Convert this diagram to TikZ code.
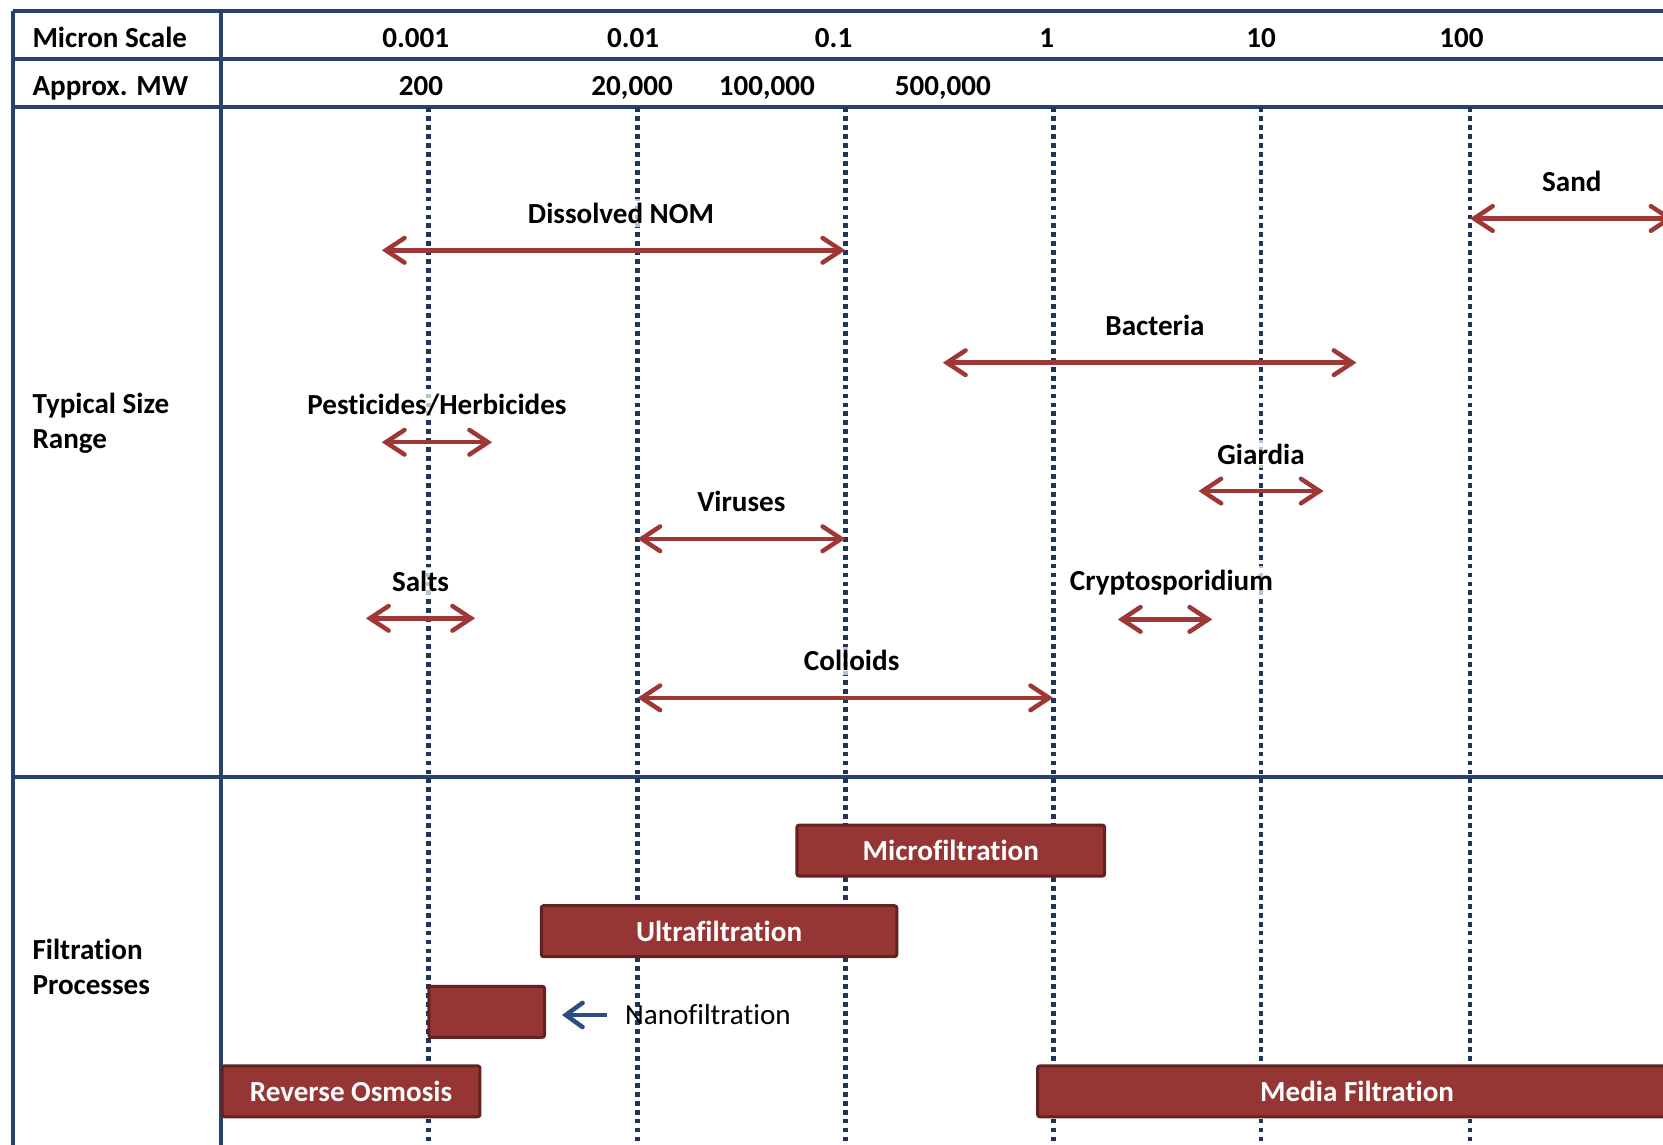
\documentclass[tikz,border=0pt]{standalone}
\usepackage{fontspec}
\setmainfont{Carlito}[Ligatures=NoCommon]
\usetikzlibrary{arrows.meta}
\definecolor{framenavy}{RGB}{40,66,108}
\definecolor{dotnavy}{RGB}{30,52,88}
\definecolor{rangered}{RGB}{158,56,54}
\definecolor{barred}{RGB}{150,54,52}
\definecolor{bardark}{RGB}{98,34,33}
\definecolor{nanoblue}{RGB}{42,78,128}

\begin{document}
\begin{tikzpicture}[x=0.01cm, y=-0.01cm,
  every node/.style={font=\fontsize{7.8}{9.4}\selectfont\bfseries},
  grid/.style={framenavy, line width=1.1pt},
  scaleline/.style={dotnavy, line width=1.3pt, dash pattern=on 1.3pt off 1.1pt},
  sizerange/.style={rangered, line width=1.2pt,
    {Straight Barb[length=5pt,width=6.6pt,line cap=round]}-{Straight Barb[length=5pt,width=6.6pt,line cap=round]}},
  rangelbl/.style={fill=white, fill opacity=0.7, text opacity=1, inner sep=1pt},
  hdr/.style={text height=1.6ex, text depth=0.45ex},
  process/.style={draw=bardark, fill=barred, line width=0.8pt, rounded corners=0.6pt,
    text=white, minimum height=0.48cm, anchor=west, inner sep=0pt},
  rowlbl/.style={anchor=west, align=left, inner sep=0pt}]

\useasboundingbox (0,0) rectangle (1568,1079);
\clip (0,0) rectangle (1568,1079);
\fill[white] (0,0) rectangle (1568,1079);

\foreach \yy in {10,56,101,733}
  \draw[grid] (12,\yy) -- (1600,\yy);
\foreach \xx in {12,208}
  \draw[grid] (\xx,10) -- (\xx,1100);
\foreach \xx in {404,601,797,993,1189,1386}
  \draw[scaleline] (\xx,101) -- (\xx,1100);

\node[rowlbl, hdr] (micron) at (30,35) {Micron Scale};
\node[rowlbl, hdr] (mw) at (30,80) {Approx. MW};
\node[rowlbl] (sizes) at (30,399) {Typical Size\\Range};
\node[rowlbl] (procs) at (30,912) {Filtration\\Processes};

\foreach \xx/\val/\nm in {392/0.001/mA, 597/0.01/mB, 786/0.1/mC, 987/1/mD, 1189/10/mE, 1378/100/mF}
  \node[hdr] (\nm) at (\xx,35) {\val};
\node[hdr] (wA) at (397,80) {200};
\node[hdr] (wB) at (596,80) {20,000};
\node[hdr] (wC) at (723,80) {100,000};
\node[hdr] (wD) at (889,80) {500,000};

\begin{scope}
  \foreach \xa/\xb/\yy/\dx/\nm/\txt in {360/797/236/7/nom/Dissolved NOM, 1386/1578/206/0/sand/Sand,
      889/1279/342/5/bact/Bacteria, 360/464/417/0/pest/{Pesticides/Herbicides},
      1130/1248/463/0/giar/Giardia, 601/797/508/0/vir/Viruses, 345/448/583/0/salt/Salts,
      1054/1143/584/6/crypto/Cryptosporidium, 601/993/658/6/coll/Colloids}
  {
    \draw[sizerange] (\xa,\yy) -- (\xb,\yy);
    \node[rangelbl] (\nm) at ({(\xa+\xb)/2+\dx},{\yy-35}) {\txt};
  }
\end{scope}

\begin{scope}
  \node[process, minimum width=2.9cm] (mf) at (750,802) {Microfiltration};
  \node[process, minimum width=3.35cm] (uf) at (509,878) {Ultrafiltration};
  \node[process, minimum width=1.09cm] (nf) at (403,954) {};
  \node[process, minimum width=2.43cm] (ro) at (208,1029) {Reverse Osmosis};
  \node[process, minimum width=6.02cm] (media) at (977,1029) {Media Filtration};
  \node[anchor=west, font=\fontsize{7.8}{9.4}\selectfont] (nflbl) at (577,957) {Nanofiltration};
  \draw[nanoblue, line width=1.2pt, -{Straight Barb[length=4.5pt,width=6.5pt,line cap=round]},
    shorten >=0.15cm, shorten <=0.05cm] (nflbl.west) -- (nflbl.west -| nf.east);
\end{scope}

\end{tikzpicture}
\end{document}
